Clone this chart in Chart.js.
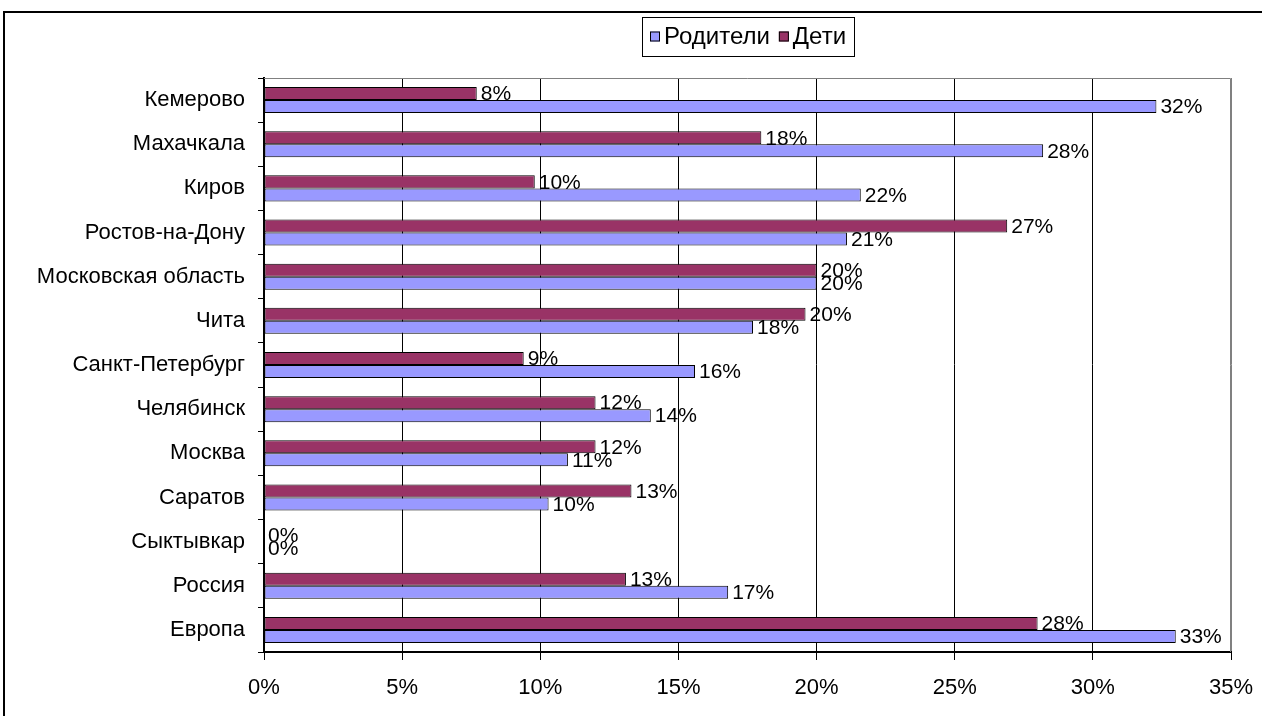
<!DOCTYPE html>
<html>
<head>
<meta charset="utf-8">
<script src="https://cdn.jsdelivr.net/npm/chart.js@4/dist/chart.umd.min.js"></script>
<style>
html,body{margin:0;padding:0;background:#fff;}
#wrap{width:1262px;height:716px;position:relative;}
</style>
</head>
<body>
<div id="wrap"><canvas id="c" width="1262" height="716"></canvas></div>
<script>
const categories = ["Кемерово","Махачкала","Киров","Ростов-на-Дону","Московская область","Чита","Санкт-Петербург","Челябинск","Москва","Саратов","Сыктывкар","Россия","Европа"];
const parentsValues = [32.3, 28.2, 21.6, 21.1, 20.0, 17.7, 15.6, 14.0, 11.0, 10.3, 0, 16.8, 33.0];
const childrenValues = [7.7, 18.0, 9.8, 26.9, 20.0, 19.6, 9.4, 12.0, 12.0, 13.3, 0, 13.1, 28.0];
const seriesNames = ["Родители", "Дети"];
const xTicks = [0, 5, 10, 15, 20, 25, 30, 35];

const FONT = '"Liberation Sans", Arial, sans-serif';
const FS_AXIS = 22;
const FS_LABEL = 21;
const FS_LEGEND = 24;
const PARENT_COLOR = '#9999FF';
const CHILD_COLOR = '#993366';

const framePlugin = {
  id: 'frame',
  beforeDraw(chart) {
    const ctx = chart.ctx;
    ctx.save();
    ctx.fillStyle = '#fff';
    ctx.fillRect(0, 0, chart.width, chart.height);
    ctx.strokeStyle = '#000';
    ctx.lineWidth = 2;
    ctx.beginPath();
    ctx.moveTo(4, chart.height + 2);
    ctx.lineTo(4, 12);
    ctx.lineTo(chart.width + 2, 12);
    ctx.stroke();
    ctx.restore();
  },
  beforeDatasetsDraw(chart) {
    const ctx = chart.ctx, a = chart.chartArea;
    ctx.save();
    ctx.strokeStyle = '#808080';
    ctx.lineWidth = 1;
    ctx.beginPath();
    ctx.moveTo(a.left, a.top + 0.5);
    ctx.lineTo(a.right - 0.5, a.top + 0.5);
    ctx.lineTo(a.right - 0.5, a.bottom);
    ctx.stroke();
    ctx.restore();
  }
};

const labelPlugin = {
  id: 'valueLabels',
  afterDatasetsDraw(chart) {
    const ctx = chart.ctx;
    ctx.save();
    ctx.font = FS_LABEL + 'px ' + FONT;
    ctx.fillStyle = '#000';
    ctx.textAlign = 'left';
    ctx.textBaseline = 'middle';
    chart.data.datasets.forEach((ds, di) => {
      const meta = chart.getDatasetMeta(di);
      meta.data.forEach((el, i) => {
        const v = ds.data[i];
        ctx.fillText(Math.round(v) + '%', el.x + 4, el.y + 1);
      });
    });
    ctx.restore();
  }
};

const legendPlugin = {
  id: 'boxLegend',
  afterDraw(chart) {
    const ctx = chart.ctx, a = chart.chartArea;
    ctx.save();
    ctx.font = FS_LEGEND + 'px ' + FONT;
    const items = [
      {text: seriesNames[0], color: PARENT_COLOR},
      {text: seriesNames[1], color: CHILD_COLOR}
    ];
    const pad = 8, mk = 10, gap = 4, sep = 9;
    let w = pad * 2;
    items.forEach((it, k) => { w += mk + gap + ctx.measureText(it.text).width + (k ? 0 : sep); });
    w = Math.round(w);
    const h = 39, top = 17;
    const left = Math.round((a.left + a.right) / 2 - w / 2);
    ctx.strokeStyle = '#000';
    ctx.lineWidth = 1;
    ctx.strokeRect(left + 0.5, top + 0.5, w, h);
    let x = left + pad;
    const cy = top + h / 2;
    ctx.textBaseline = 'middle';
    ctx.textAlign = 'left';
    items.forEach((it, k) => {
      ctx.fillStyle = it.color;
      ctx.fillRect(x, cy - mk / 2, mk, mk);
      ctx.strokeRect(x + 0.5, cy - mk / 2 + 0.5, mk - 1, mk - 1);
      x += mk + gap;
      ctx.fillStyle = '#000';
      ctx.fillText(it.text, x, cy + 1);
      x += ctx.measureText(it.text).width + sep;
    });
    ctx.restore();
  }
};

new Chart(document.getElementById('c'), {
  type: 'bar',
  data: {
    labels: categories,
    datasets: [
      {label: seriesNames[1], data: childrenValues, backgroundColor: CHILD_COLOR, borderColor: '#000', borderWidth: 1, borderSkipped: false},
      {label: seriesNames[0], data: parentsValues, backgroundColor: PARENT_COLOR, borderColor: '#000', borderWidth: 1, borderSkipped: false}
    ]
  },
  options: {
    indexAxis: 'y',
    responsive: false,
    animation: false,
    events: [],
    layout: {padding: {top: 78, left: 0, right: 31, bottom: 0}},
    datasets: {bar: {categoryPercentage: 0.59, barPercentage: 1.0}},
    plugins: {legend: {display: false}, tooltip: {enabled: false}},
    scales: {
      x: {
        min: 0, max: 35,
        afterBuildTicks(scale) { scale.ticks = xTicks.map(v => ({value: v})); },
        afterFit(scale) { scale.height = 64; scale.paddingLeft = 0; scale.paddingRight = 0; },
        ticks: {
          callback: v => v + '%',
          color: '#000',
          font: {family: FONT, size: FS_AXIS},
          padding: 15,
          maxRotation: 0
        },
        grid: {
          color: ctx => (ctx.tick && ctx.tick.value === 35) ? '#808080' : '#000',
          tickColor: '#000',
          lineWidth: 1,
          tickLength: 8
        },
        border: {color: '#000', width: 2}
      },
      y: {
        afterFit(scale) { scale.width = 264; scale.paddingTop = 0; scale.paddingBottom = 0; },
        ticks: {
          color: '#000',
          font: {family: FONT, size: FS_AXIS},
          padding: 13
        },
        grid: {
          offset: true,
          drawOnChartArea: false,
          drawTicks: true,
          tickLength: 6,
          color: '#000',
          lineWidth: 1
        },
        border: {color: '#000', width: 2}
      }
    }
  },
  plugins: [framePlugin, labelPlugin, legendPlugin]
});
</script>
</body>
</html>
